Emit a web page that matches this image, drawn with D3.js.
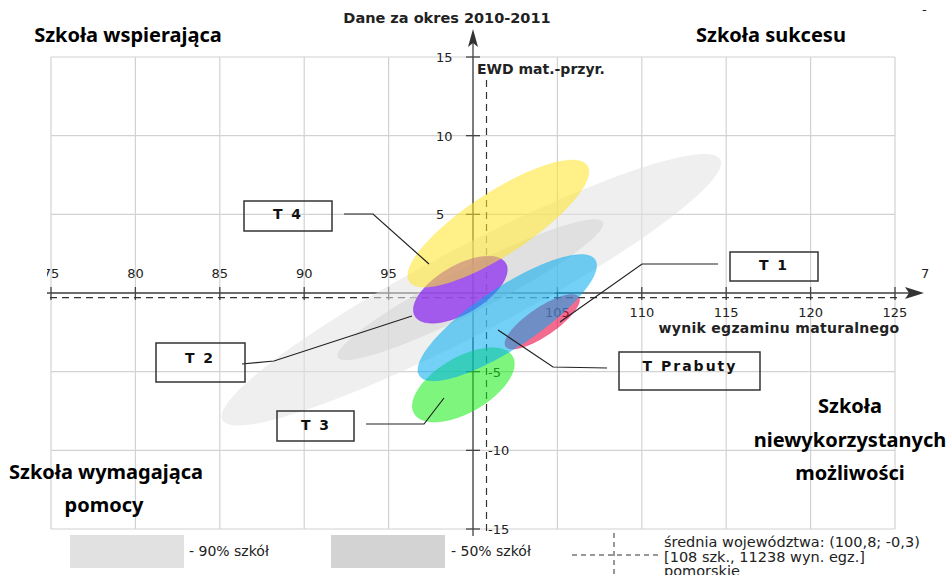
<!DOCTYPE html>
<html><head><meta charset="utf-8">
<script src="https://cdn.jsdelivr.net/npm/d3@7"></script>
<style>
html,body{margin:0;padding:0;background:#fff;}
svg{display:block;}
</style></head>
<body>
<svg id="chart" width="947" height="575"></svg>
<script>
// ---------- data ----------
const title = "Dane za okres 2010-2011";
const xLabel = "wynik egzaminu maturalnego";
const yLabel = "EWD mat.-przyr.";
const xDomain = [75, 125];
const yDomain = [-15, 15];
const xTicks = [75, 80, 85, 90, 95, 100, 105, 110, 115, 120, 125];
const yTicks = [-15, -10, -5, 5, 10, 15];
const xTickLabelsAbove = [75, 80, 85, 90, 95];
const xTickLabelsBelow = [105, 110, 115, 120, 125];
const average = [100.8, -0.3];
// ellipses: centre (x, y) and conjugate semi-axis vectors u, v, all in data units
const ellipseNames = ["90% szkół", "50% szkół", "T 1", "T 2", "T 4", "T 3", "T Prabuty"];
const ellipseCx = [99.9, 99.84, 104.1, 99.25, 101.5, 99.43, 102.03];
const ellipseCy = [0.21, 0.21, -1.83, 0.21, 4.41, -5.84, -1.57];
const ellipseUx = [14.75, 7.85, 2.16, 2.69, 5.27, 2.91, 5.20];
const ellipseUy = [8.28, 4.30, 1.57, 1.67, 3.68, 1.81, 3.68];
const ellipseVx = [1.18, 0.59, 0.46, 0.71, 1.00, 0.81, 0.98];
const ellipseVy = [-2.43, -1.25, -0.74, -1.32, -1.66, -1.51, -1.60];
const quadrantLabels = [["Szkoła wspierająca"], ["Szkoła sukcesu"], ["Szkoła wymagająca", "pomocy"], ["Szkoła", "niewykorzystanych", "możliwości"]];
const legendLabels = ["- 90% szkół", "- 50% szkół"];
const averageLegend = ["średnia województwa: (100,8; -0,3)", "[108 szk., 11238 wyn. egz.]", "pomorskie"];

// ---------- styles / layout ----------
const fills = {"90% szkół":"#e1e1e1","50% szkół":"#d3d3d3","T 1":"#eb0a46","T 2":"#7600f2","T 4":"#ffe424","T 3":"#14ee14","T Prabuty":"#00abf0"};
const opac = {"90% szkół":0.55,"50% szkół":0.55,"T 1":0.6,"T 2":0.6,"T 4":0.55,"T 3":0.55,"T Prabuty":0.55};
const labelLayout = {
  "T 4": {box:[244,201,88,30], text:[288,214], line:[[344,214],[373,214],[429,264]]},
  "T 2": {box:[156,343,89,39], text:[200,358], line:[[242,364],[274,361],[412,316]]},
  "T 3": {box:[277,411,77,30], text:[316,425], line:[[366,424],[424,424],[444,398]]},
  "T 1": {box:[730,252,88,29], text:[774,265], line:[[718,264],[642,264],[560,322]]},
  "T Prabuty": {box:[619,352,141,38], text:[690,366], line:[[607,368],[553,367],[498,330]]}
};
const labelOrder = ["T 4","T 2","T 3","T 1","T Prabuty"];

const svg = d3.select("#chart");
const x = d3.scaleLinear().domain(xDomain).range([51, 895]);
const y = d3.scaleLinear().domain(yDomain).range([529, 57]);
const x0 = x(100), y0 = y(0);
const tickFont = "DejaVu Sans, sans-serif";

// grid
const grid = svg.append("g");
grid.selectAll("line.v").data(xTicks).join("line")
  .attr("x1", d => x(d)).attr("x2", d => x(d)).attr("y1", y(15)).attr("y2", y(-15))
  .attr("stroke", "#d2d2d2").attr("stroke-width", 1.2);
grid.selectAll("line.h").data([-15,-10,-5,0,5,10,15]).join("line")
  .attr("x1", x(75)).attr("x2", x(125)).attr("y1", d => y(d)).attr("y2", d => y(d))
  .attr("stroke", "#d2d2d2").attr("stroke-width", 1.2);

// axes
const ax = svg.append("g").attr("stroke", "#444").attr("stroke-width", 1.3);
ax.append("line").attr("x1", 47).attr("x2", 912).attr("y1", y0).attr("y2", y0);
ax.append("line").attr("x1", x0).attr("x2", x0).attr("y1", 536).attr("y2", 40);
svg.append("path").attr("fill", "#333")
  .attr("d", `M${x0},29 L${x0+5},47 L${x0},43 L${x0-5},47 Z`);
svg.append("path").attr("fill", "#333")
  .attr("d", `M924,${y0} L905,${y0-6} L909,${y0} L905,${y0+6} Z`);
ax.selectAll("line.xt").data(xTicks.filter(d => d !== 100)).join("line")
  .attr("x1", d => x(d)).attr("x2", d => x(d)).attr("y1", y0-6).attr("y2", y0+7);
ax.selectAll("line.yt").data(yTicks).join("line")
  .attr("x1", x0-7).attr("x2", x0+7).attr("y1", d => y(d)).attr("y2", d => y(d));

// tick labels
svg.append("clipPath").attr("id","lclip").append("rect").attr("x",47).attr("y",0).attr("width",900).attr("height",575);
svg.append("g").attr("clip-path","url(#lclip)").selectAll("text").data(xTickLabelsAbove).join("text")
  .attr("x", d => x(d)).attr("y", y0-15).attr("text-anchor","middle")
  .attr("font-family", tickFont).attr("font-size", 13).attr("fill","#222").text(d => d);
svg.append("text").attr("x", 921).attr("y", y0-15).attr("font-family", tickFont).attr("font-size", 13).attr("fill","#222").text("7");
svg.selectAll("text.xb").data(xTickLabelsBelow).join("text").attr("class","xb")
  .attr("x", d => x(d)).attr("y", y0+24).attr("text-anchor","middle")
  .attr("font-family", tickFont).attr("font-size", 13).attr("fill","#222").text(d => d);
svg.selectAll("text.yl").data(yTicks).join("text").attr("class","yl")
  .attr("x", d => d > 0 ? x0-37 : x0+15).attr("y", d => y(d)+5)
  .attr("font-family", tickFont).attr("font-size", 13).attr("fill","#222").text(d => d);

// axis titles
svg.append("text").attr("x", 779).attr("y", 333).attr("text-anchor","middle")
  .attr("font-family", tickFont).attr("font-weight","bold").attr("font-size", 14).attr("letter-spacing","0.3").attr("fill","#222").text(xLabel);
svg.append("text").attr("x", 477).attr("y", 74)
  .attr("font-family", tickFont).attr("font-weight","bold").attr("font-size", 14).attr("fill","#222").text(yLabel);
svg.append("text").attr("x", 447).attr("y", 23).attr("text-anchor","middle")
  .attr("font-family", tickFont).attr("font-weight","bold").attr("font-size", 14.5).attr("fill","#222").text(title);
svg.append("text").attr("x", 922).attr("y", 14).attr("font-family", tickFont).attr("font-size", 13).attr("fill","#222").text("-");

// average dashed lines
const dash = svg.append("g").attr("stroke","#333").attr("stroke-width",1.2).attr("stroke-dasharray","7,5");
dash.append("line").attr("x1", x(average[0])).attr("x2", x(average[0])).attr("y1", 80).attr("y2", 532);
dash.append("line").attr("x1", 50).attr("x2", 900).attr("y1", y(average[1])).attr("y2", y(average[1]));

// ellipses
const line = d3.line().curve(d3.curveLinearClosed);
const N = 96;
const ell = ellipseNames.map((name, i) => {
  const pts = d3.range(N).map(k => {
    const t = 2*Math.PI*k/N;
    return [x(ellipseCx[i] + ellipseUx[i]*Math.cos(t) + ellipseVx[i]*Math.sin(t)),
            y(ellipseCy[i] + ellipseUy[i]*Math.cos(t) + ellipseVy[i]*Math.sin(t))];
  });
  return {name, pts};
});
svg.append("g").selectAll("path").data(ell).join("path")
  .attr("d", d => line(d.pts))
  .attr("fill", d => fills[d.name]).attr("fill-opacity", d => opac[d.name])
  .attr("stroke", d => d.name.startsWith("T") ? fills[d.name] : "none")
  .attr("stroke-opacity", 0.25).attr("stroke-width", 1);

// label boxes and leaders
const lab = svg.append("g");
labelOrder.forEach(n => {
  const L = labelLayout[n];
  lab.append("path").attr("d", d3.line()(L.line)).attr("fill","none").attr("stroke","#222").attr("stroke-width",1.2);
  lab.append("rect").attr("x", L.box[0]).attr("y", L.box[1]).attr("width", L.box[2]).attr("height", L.box[3])
    .attr("fill","none").attr("stroke","#333").attr("stroke-width",1.5);
  lab.append("text").attr("x", L.text[0]).attr("y", L.text[1]+5).attr("text-anchor","middle")
    .attr("font-family", tickFont).attr("font-weight","bold").attr("font-size",14).attr("letter-spacing","2")
    .attr("fill","#111").text(n);
});

// quadrant labels
const qFont = "Noto Sans, sans-serif";
const qPos = [
  {xs: [128], ys: [42]},
  {xs: [771], ys: [42]},
  {xs: [106, 104], ys: [479, 512]},
  {xs: [850, 850, 850], ys: [413, 447, 480]}
];
quadrantLabels.forEach((lines, i) => {
  const p = qPos[i];
  lines.forEach((t, j) => {
    svg.append("text").attr("x", p.xs[j]).attr("y", p.ys[j]).attr("text-anchor", "middle")
      .attr("font-family", qFont).attr("font-weight","bold").attr("font-size", 20).attr("fill","#000").text(t);
  });
});

// legend
const lg = svg.append("g");
lg.append("rect").attr("x",70).attr("y",535).attr("width",114).attr("height",33).attr("fill",fills["90% szkół"]);
lg.append("rect").attr("x",331).attr("y",535).attr("width",114).attr("height",33).attr("fill",fills["50% szkół"]);
lg.selectAll("text.lt").data(legendLabels).join("text").attr("class","lt")
  .attr("x", (d,i) => i ? 451 : 189).attr("y", 556)
  .attr("font-family", tickFont).attr("font-size", 14).attr("fill","#222").text(d => d);
const dl = lg.append("g").attr("stroke","#333").attr("stroke-width",1).attr("stroke-dasharray","5,4");
dl.append("line").attr("x1",572).attr("x2",658).attr("y1",555).attr("y2",555);
dl.append("line").attr("x1",614).attr("x2",614).attr("y1",533).attr("y2",575);
lg.selectAll("text.av").data(averageLegend).join("text").attr("class","av")
  .attr("x", 664).attr("y", (d,i) => 547 + i*14.5)
  .attr("font-family", tickFont).attr("font-size", 14.5).attr("fill","#222").text(d => d);
</script>
</body></html>
